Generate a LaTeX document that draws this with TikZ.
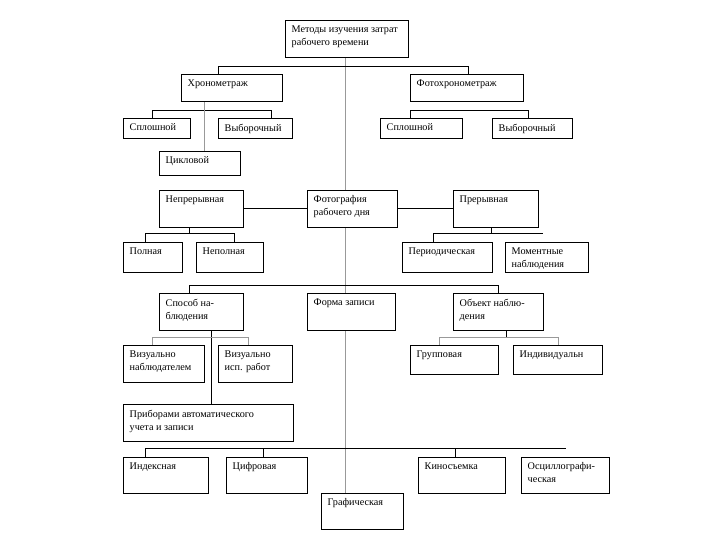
\documentclass[tikz,border=0pt]{standalone}
\usepackage{fontspec}
\setmainfont{Liberation Serif}
\usetikzlibrary{shadows,backgrounds}
\tikzset{
  box/.style={draw=black, line width=0.6pt, fill=white, inner sep=0pt, anchor=north west,
    general shadow={fill=black!50, shadow xshift=1.1pt, shadow yshift=-1.1pt}},
  txt/.style={anchor=north west, inner sep=0pt, align=left, font=\fontsize{10.2}{13}\selectfont},
  cline/.style={draw=black, line width=0.8pt},
  gline/.style={draw=black!40, line width=0.6pt},
}
\newcommand\BoxN[6]{%
  \node[box, minimum width={#4-#2}, minimum height={#5-#3}] (#1) at (#2,#3) {};
  \node[txt] (#1t) at ([shift={(6.5pt,-5.5pt)}]#1.north west) {#6};
}
\begin{document}
\begin{tikzpicture}[x=1pt,y=-1pt]
\useasboundingbox (0,0) rectangle (720,540);
\BoxN{top}{285}{20}{408}{57}{Методы изучения затрат\\рабочего времени}
\BoxN{chron}{181}{74}{282}{101}{Хронометраж}
\BoxN{phchron}{410}{74}{523}{101}{Фотохронометраж}
\BoxN{splL}{123}{118}{190}{138}{Сплошной}
\BoxN{vybL}{218}{118}{292}{138}{Выборочный}
\BoxN{cikl}{159}{151}{240}{175}{Цикловой}
\BoxN{splR}{380}{118}{462}{138}{Сплошной}
\BoxN{vybR}{492}{118}{572}{138}{Выборочный}
\BoxN{nepr}{159}{190}{243}{227}{Непрерывная}
\BoxN{foto}{307}{190}{397}{227}{Фотография\\рабочего дня}
\BoxN{prer}{453}{190}{538}{227}{Прерывная}
\BoxN{poln}{123}{242}{182}{272}{Полная}
\BoxN{nepoln}{196}{242}{263}{272}{Неполная}
\BoxN{period}{402}{242}{492}{272}{Периодическая}
\BoxN{moment}{505}{242}{588}{272}{Моментные\\наблюдения}
\BoxN{sposob}{159}{293}{243}{330}{Способ на-\\блюдения}
\BoxN{forma}{307}{293}{395}{330}{Форма записи}
\BoxN{obekt}{453}{293}{543}{330}{Объект наблю-\\дения}
\BoxN{viz1}{123}{345}{204}{382}{Визуально\\наблюдателем}
\BoxN{viz2}{218}{345}{292}{382}{Визуально\\исп. работ}
\BoxN{grup}{410}{345}{498}{374}{Групповая}
\BoxN{indiv}{513}{345}{602}{374}{Индивидуальн}
\BoxN{prib}{123}{404}{293}{441}{Приборами автоматического\\учета и записи}
\BoxN{index}{123}{457}{208}{493}{Индексная}
\BoxN{cifr}{226}{457}{307}{493}{Цифровая}
\BoxN{kino}{418}{457}{505}{493}{Киносъемка}
\BoxN{oscil}{521}{457}{609}{493}{Осциллографи-\\ческая}
\BoxN{graf}{321}{493}{403}{529}{Графическая}
% bus coordinates
\coordinate (b1) at (218,66);  \coordinate (b2) at (468,66);
\coordinate (c1) at (152,110); \coordinate (c2) at (271,110);
\coordinate (c3) at (204,110);
\coordinate (d1) at (410,110); \coordinate (d2) at (528,110);
\coordinate (e0) at (189,233); \coordinate (e1) at (145,233); \coordinate (e2) at (234,233);
\coordinate (f0) at (491,233); \coordinate (f1) at (433,233); \coordinate (f2) at (543,233);
\coordinate (g0) at (189,285); \coordinate (g1) at (498,285);
\coordinate (h0) at (211,337); \coordinate (h1) at (152,337); \coordinate (h2) at (248,337);
\coordinate (k0) at (506,337); \coordinate (k1) at (439,337); \coordinate (k2) at (558,337);
\coordinate (m1) at (145,448); \coordinate (m2) at (263,448); \coordinate (m3) at (455,448); \coordinate (m4) at (566,448);
\begin{pgfonlayer}{background}
\fill[white] (0,0) rectangle (720,540);
\draw[gline] (top.south -| 345,0) -- (graf.north -| 345,0);
\draw[cline] (chron.north -| b1) |- (b2) -- (b2 |- phchron.north);
\draw[cline] (splL.north -| c1) |- (c2) -- (c2 |- vybL.north);
\draw[gline] (chron.south -| c3) -- (cikl.north -| c3);
\draw[cline] (splR.north -| d1) |- (d2) -- (d2 |- vybR.north);
\draw[cline] (nepr.east) -- (foto.west);
\draw[cline] (foto.east) -- (prer.west);
\draw[cline] (nepr.south -| e0) -- (e0);
\draw[cline] (poln.north -| e1) |- (e2) -- (e2 |- nepoln.north);
\draw[cline] (prer.south -| f0) -- (f0);
\draw[cline] (period.north -| f1) |- (f2);
\draw[cline] (sposob.north -| g0) |- (g1) -- (g1 |- obekt.north);
\draw[cline] (sposob.south -| h0) -- (prib.north -| h0);
\draw[gline] (viz1.north -| h1) |- (h2) -- (h2 |- viz2.north);
\draw[cline] (obekt.south -| k0) -- (k0);
\draw[gline] (grup.north -| k1) |- (k2) -- (k2 |- indiv.north);
\draw[cline] (index.north -| m1) |- (m4);
\draw[cline] (m2) -- (m2 |- cifr.north);
\draw[cline] (m3) -- (m3 |- kino.north);
\end{pgfonlayer}
\end{tikzpicture}
\end{document}
